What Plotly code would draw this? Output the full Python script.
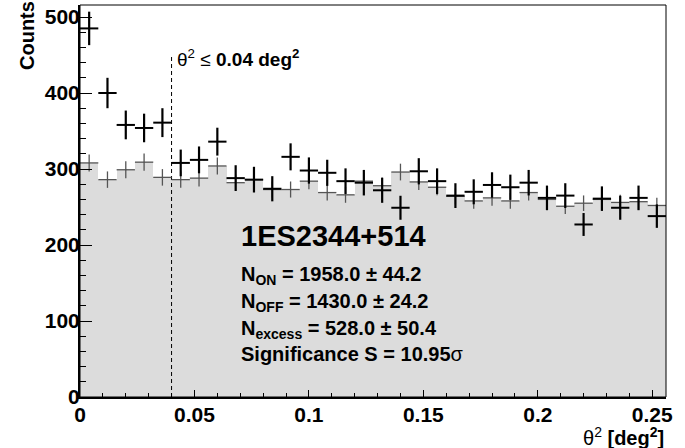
import plotly.graph_objects as go
import numpy as np

# theta^2 bin centres [deg^2], bin width 0.008
theta2 = [0.004, 0.012, 0.020, 0.028, 0.036, 0.044, 0.052, 0.060, 0.068, 0.076,
          0.084, 0.092, 0.100, 0.108, 0.116, 0.124, 0.132, 0.140, 0.148, 0.156,
          0.164, 0.172, 0.180, 0.188, 0.196, 0.204, 0.212, 0.220, 0.228, 0.236,
          0.244, 0.252]
bin_width = 0.008

on_counts = [485, 400, 358, 354, 361, 308, 312, 336, 288, 286,
             274, 316, 298, 295, 284, 282, 272, 249, 297, 284,
             265, 270, 279, 276, 282, 262, 265, 227, 261, 249,
             262, 238]
off_counts = [308, 286, 299, 309, 289, 286, 288, 304, 282, 286,
              273, 273, 284, 269, 266, 284, 278, 296, 283, 276,
              264, 258, 262, 258, 269, 260, 251, 255, 260, 256,
              257, 252]

source = "1ES2344+514"
n_on, n_on_err = 1958.0, 44.2
n_off, n_off_err = 1430.0, 24.2
n_exc, n_exc_err = 528.0, 50.4
signif = 10.95
theta2_cut = 0.04
cut_line_top = 450

x_ticks = [0, 0.05, 0.1, 0.15, 0.2, 0.25]
x_tick_text = ["0", "0.05", "0.1", "0.15", "0.2", "0.25"]
y_ticks = [0, 100, 200, 300, 400, 500]
y_tick_text = ["0", "100", "200", "300", "400", "500"]

on_err = np.sqrt(np.array(on_counts, dtype=float))
alpha = n_off_err ** 2 / n_off
off_err = np.sqrt(alpha * np.array(off_counts, dtype=float))

FONT = "Liberation Sans"

fig = go.Figure()

fig.add_trace(go.Bar(x=theta2, y=off_counts, width=bin_width,
                     marker=dict(color="#dcdcdc", line=dict(width=0)),
                     showlegend=False, hoverinfo="skip"))

fig.add_trace(go.Scatter(x=[theta2_cut, theta2_cut], y=[0, cut_line_top], mode="lines",
                         line=dict(color="black", width=1, dash="4px,3px"),
                         showlegend=False, hoverinfo="skip"))

fig.add_trace(go.Scatter(x=theta2, y=off_counts, mode="markers",
                         marker=dict(size=1, color="#555555"),
                         error_x=dict(type="constant", value=bin_width / 2, width=0,
                                      thickness=1.3, color="#555555"),
                         error_y=dict(type="data", array=off_err, width=0,
                                      thickness=1.3, color="#555555"),
                         showlegend=False))

fig.add_trace(go.Scatter(x=theta2, y=on_counts, mode="markers",
                         marker=dict(size=1, color="black"),
                         error_x=dict(type="constant", value=bin_width / 2, width=0,
                                      thickness=2, color="black"),
                         error_y=dict(type="data", array=on_err, width=0,
                                      thickness=2.2, color="black"),
                         showlegend=False))

tickfont = dict(family=FONT, size=21, color="black", weight="bold")

fig.update_layout(
    width=685, height=448,
    margin=dict(l=80, r=19, t=5, b=51),
    paper_bgcolor="white", plot_bgcolor="white",
    bargap=0,
    xaxis=dict(range=[0, 0.256], tickvals=x_ticks, ticktext=x_tick_text,
               ticks="inside", ticklen=7, tickwidth=1, tickcolor="black",
               minor=dict(dtick=0.01, tick0=0, ticks="inside", ticklen=4,
                          tickwidth=1, tickcolor="black"),
               showline=True, linewidth=2, linecolor="black",
               showgrid=False, zeroline=False, tickfont=tickfont,
               ticklabelstandoff=-2),
    yaxis=dict(range=[0, 515.8], tickvals=y_ticks, ticktext=y_tick_text,
               ticks="inside", ticklen=12, tickwidth=1, tickcolor="black",
               minor=dict(dtick=20, tick0=0, ticks="inside", ticklen=6,
                          tickwidth=1, tickcolor="black"),
               showline=True, linewidth=2, linecolor="black",
               showgrid=False, zeroline=False, tickfont=tickfont,
               ticklabelstandoff=-6),
    shapes=[dict(type="rect", xref="paper", yref="paper", x0=0, y0=0, x1=1, y1=1,
                 line=dict(color="black", width=1), layer="above")],
)

def ann(text, x, y, size, xanchor="left", yanchor="middle", xref="x", yref="y", angle=0):
    fig.add_annotation(text=text, x=x, y=y, xref=xref, yref=yref, showarrow=False,
                       xanchor=xanchor, yanchor=yanchor, textangle=angle,
                       font=dict(family=FONT, size=size, color="black"))

ann("θ<sup>2</sup> ≤ <b>%.2f deg<sup>2</sup></b>" % theta2_cut, 0.0416, 446, 19)
ann("<b>%s</b>" % source, 0.0695, 212, 29)
ann("<b>N<sub>ON</sub> = %.1f ± %.1f</b>" % (n_on, n_on_err), 0.0695, 160, 20)
ann("<b>N<sub>OFF</sub> = %.1f ± %.1f</b>" % (n_off, n_off_err), 0.0695, 124, 20)
ann("<b>N<sub>excess</sub> = %.1f ± %.1f</b>" % (n_exc, n_exc_err), 0.0695, 89, 20)
ann("<b>Significance S = %.2f</b>σ" % signif, 0.0695, 57, 20)
ann("θ<sup>2</sup> <b>[deg<sup>2</sup>]</b>", 1.0, -0.1, 20, xanchor="right",
    xref="paper", yref="paper")
ann("<b>Counts</b>", -0.0904, 0.921, 20, xanchor="center", yanchor="middle",
    xref="paper", yref="paper", angle=-90)

fig.write_html("out.html")
